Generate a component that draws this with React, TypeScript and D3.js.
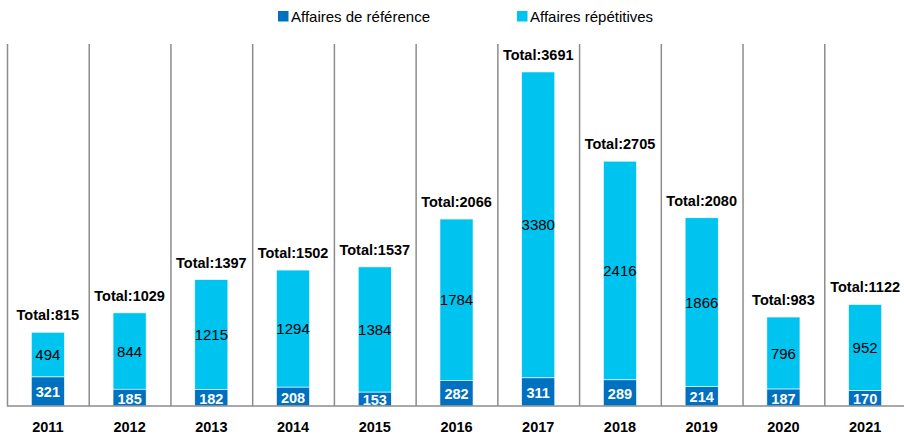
import React, {useEffect, useRef} from 'react';
import * as d3 from 'd3';

const years = ['2011', '2012', '2013', '2014', '2015', '2016', '2017', '2018', '2019', '2020', '2021'];
const reference = [321, 185, 182, 208, 153, 282, 311, 289, 214, 187, 170];
const repetitive = [494, 844, 1215, 1294, 1384, 1784, 3380, 2416, 1866, 796, 952];
const seriesNames = ['Affaires de référence', 'Affaires répétitives'];

const WIDTH = 904;
const HEIGHT = 439;
const DARK = '#0070C0';
const LIGHT = '#00C4F0';
const FONT = '"Liberation Sans", Arial, sans-serif';

export default function App() {
  const ref = useRef<SVGSVGElement>(null);

  useEffect(() => {
    const svg = d3.select(ref.current);
    svg.selectAll('*').remove();

    const x = d3.scaleBand().domain(years).range([7, 906]);
    const y = d3.scaleLinear().domain([0, 4000]).range([406, 44]);
    const bw = x.bandwidth() * 0.405;

    const rows = years.map((yr, i) => ({
      year: yr,
      ref: reference[i],
      rep: repetitive[i],
      total: reference[i] + repetitive[i]
    }));

    // séparateurs verticaux entre les années
    svg
      .append('g')
      .selectAll('line')
      .data(years)
      .enter()
      .append('line')
      .attr('x1', d => x(d)! + 0.5)
      .attr('x2', d => x(d)! + 0.5)
      .attr('y1', 44)
      .attr('y2', 406)
      .attr('stroke', '#8c8c8c')
      .attr('stroke-width', 1.5);

    const g = svg
      .append('g')
      .selectAll('g')
      .data(rows)
      .enter()
      .append('g')
      .attr('transform', d => `translate(${x(d.year)! + x.bandwidth() / 2},0)`);

    g.append('rect')
      .attr('x', -bw / 2)
      .attr('width', bw)
      .attr('y', d => y(d.total))
      .attr('height', d => y(d.ref) - y(d.total))
      .attr('fill', LIGHT)
      .attr('stroke', '#fff')
      .attr('stroke-width', 0.6);

    g.append('rect')
      .attr('x', -bw / 2)
      .attr('width', bw)
      .attr('y', d => y(d.ref))
      .attr('height', d => y(0) - y(d.ref))
      .attr('fill', DARK)
      .attr('stroke', '#fff')
      .attr('stroke-width', 0.6);

    g.append('text')
      .attr('y', d => (y(d.total) + y(d.ref)) / 2 + 5.5)
      .attr('text-anchor', 'middle')
      .style('font', `15px ${FONT}`)
      .attr('fill', '#000')
      .text(d => d.rep);

    g.append('text')
      .attr('y', d => (y(d.ref) + y(0)) / 2 + 6)
      .attr('text-anchor', 'middle')
      .style('font', `bold 14.5px ${FONT}`)
      .attr('fill', '#fff')
      .text(d => d.ref);

    g.append('text')
      .attr('y', d => y(d.total) - 12)
      .attr('text-anchor', 'middle')
      .style('font', `bold 14.5px ${FONT}`)
      .attr('fill', '#000')
      .text(d => `Total:${d.total}`);

    // axe des x
    svg
      .append('line')
      .attr('x1', 7)
      .attr('x2', WIDTH)
      .attr('y1', 406)
      .attr('y2', 406)
      .attr('stroke', '#8c8c8c')
      .attr('stroke-width', 1.5);

    g.append('text')
      .attr('y', 432)
      .attr('text-anchor', 'middle')
      .style('font', `bold 14.5px ${FONT}`)
      .attr('fill', '#000')
      .text(d => d.year);

    // légende
    const legend = svg
      .append('g')
      .selectAll('g')
      .data(seriesNames)
      .enter()
      .append('g')
      .attr('transform', (d, i) => `translate(${i === 0 ? 278 : 517},11)`);

    legend
      .append('rect')
      .attr('width', 10.5)
      .attr('height', 10.5)
      .attr('fill', (d, i) => (i === 0 ? DARK : LIGHT));

    legend
      .append('text')
      .attr('x', 13)
      .attr('y', 10.5)
      .style('font', `15px ${FONT}`)
      .attr('fill', '#000')
      .text(d => d);
  }, []);

  return (
    <svg
      ref={ref}
      width={WIDTH}
      height={HEIGHT}
      style={{position: 'absolute', left: 0, top: 0, background: '#fff'}}
    />
  );
}
